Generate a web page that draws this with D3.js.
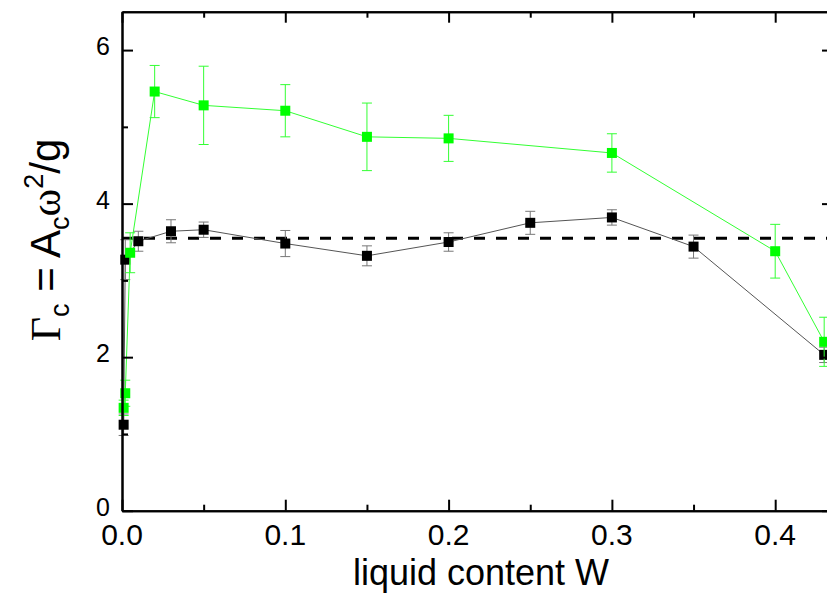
<!DOCTYPE html>
<html><head><meta charset="utf-8">
<script src="https://cdn.jsdelivr.net/npm/d3@7"></script>
<style>body{margin:0;background:#fff}svg{display:block}</style>
</head><body>
<script>
// ---- data ----
const blackW   = [0.001, 0.002, 0.01, 0.03, 0.05, 0.10, 0.15, 0.20, 0.25, 0.30, 0.35, 0.43];
const blackG   = [1.12,  3.27,  3.51, 3.64, 3.66, 3.48, 3.32, 3.50, 3.75, 3.82, 3.44, 2.03];
const blackErr = [0.14,  0.26,  0.13, 0.15, 0.10, 0.17, 0.13, 0.12, 0.15, 0.10, 0.15, 0.10];
const greenW   = [0.001, 0.002, 0.005, 0.02, 0.05, 0.10, 0.15, 0.20, 0.30, 0.40, 0.43];
const greenG   = [1.34,  1.53,  3.36,  5.46, 5.28, 5.21, 4.87, 4.85, 4.66, 3.38, 2.20];
const greenErr = [0.10,  0.17,  0.26,  0.34, 0.51, 0.34, 0.44, 0.30, 0.25, 0.35, 0.32];
const dashedLevel = 3.55;
const xTicks = [0.0, 0.1, 0.2, 0.3, 0.4];
const xMinor = [0.05, 0.15, 0.25, 0.35];
const yTicks = [0, 2, 4, 6];
const yMinor = [1, 3, 5];

const W = 827, H = 597;
const svg = d3.select("body").append("svg").attr("width", W).attr("height", H);

const x = d3.scaleLinear().domain([0, 0.4354]).range([122, 833]);
const y = d3.scaleLinear().domain([0, 6.5]).range([510.7, 11.7]);

const plot = svg.append("g");

// dashed line
plot.append("line")
  .attr("x1", x(0)).attr("x2", 833)
  .attr("y1", y(dashedLevel)).attr("y2", y(dashedLevel))
  .attr("stroke", "#000").attr("stroke-width", 3)
  .attr("stroke-dasharray", "11,11");

function series(Ws, Gs, Es, lineColor, errColor, fill) {
  const data = Ws.map((w, i) => ({w, g: Gs[i], e: Es[i]}));
  const line = d3.line().x(d => x(d.w)).y(d => y(d.g));
  plot.append("path").datum(data).attr("d", line)
    .attr("fill", "none").attr("stroke", lineColor).attr("stroke-width", 1);
  const eb = plot.append("g").attr("stroke", errColor).attr("stroke-width", 1);
  data.forEach(d => {
    eb.append("line").attr("x1", x(d.w)).attr("x2", x(d.w))
      .attr("y1", y(d.g + d.e)).attr("y2", y(d.g - d.e));
    [d.g + d.e, d.g - d.e].forEach(v => {
      eb.append("line").attr("x1", x(d.w) - 5).attr("x2", x(d.w) + 5)
        .attr("y1", y(v)).attr("y2", y(v));
    });
  });
  plot.append("g").selectAll("rect").data(data).join("rect")
    .attr("x", d => x(d.w) - 5).attr("y", d => y(d.g) - 5)
    .attr("width", 10).attr("height", 10).attr("fill", fill);
}
series(blackW, blackG, blackErr, "#555", "#777", "#000");
series(greenW, greenG, greenErr, "#33ff33", "#33ff33", "#00ff00");

// axes
function ax(axis, tr) {
  const g = svg.append("g").attr("transform", tr).call(axis);
  g.selectAll("path").attr("stroke-width", 2);
  g.selectAll("line").attr("stroke-width", 2);
  g.selectAll("text").remove();
  return g;
}
ax(d3.axisBottom(x).tickValues(xTicks).tickSize(-11).tickSizeOuter(0), `translate(0,${y(0)})`);
ax(d3.axisBottom(x).tickValues(xMinor).tickSize(-6).tickSizeOuter(0), `translate(0,${y(0)})`);
ax(d3.axisTop(x).tickValues(xTicks).tickSize(-11).tickSizeOuter(0), `translate(0,${y(6.5)})`);
ax(d3.axisTop(x).tickValues(xMinor).tickSize(-6).tickSizeOuter(0), `translate(0,${y(6.5)})`);
ax(d3.axisLeft(y).tickValues(yTicks).tickSize(-11).tickSizeOuter(0), `translate(${x(0)},0)`);
ax(d3.axisLeft(y).tickValues(yMinor).tickSize(-6).tickSizeOuter(0), `translate(${x(0)},0)`);
ax(d3.axisRight(y).tickValues(yTicks).tickSize(-11).tickSizeOuter(0), `translate(833,0)`);
ax(d3.axisRight(y).tickValues(yMinor).tickSize(-6).tickSizeOuter(0), `translate(833,0)`);

// tick labels
svg.append("g").selectAll("text").data(xTicks).join("text")
  .attr("x", d => x(d)).attr("y", 545)
  .attr("text-anchor", "middle")
  .attr("font-family", "Liberation Sans, Arial, sans-serif").attr("font-size", 30)
  .text(d => d.toFixed(1));
svg.append("g").selectAll("text").data(yTicks).join("text")
  .attr("x", 110).attr("y", d => y(d) + 5)
  .attr("text-anchor", "end")
  .attr("font-family", "Liberation Sans, Arial, sans-serif").attr("font-size", 25)
  .text(d => d);

// x title
svg.append("text").attr("x", 481).attr("y", 585).attr("text-anchor", "middle")
  .attr("font-family", "Liberation Sans, Arial, sans-serif").attr("font-size", 36)
  .text("liquid content W");

// y title
const yt = svg.append("text")
  .attr("transform", "translate(60,240) rotate(-90)")
  .attr("text-anchor", "middle")
  .attr("font-family", "Liberation Sans, Arial, sans-serif").attr("font-size", 42);
yt.append("tspan").attr("font-family", "Liberation Serif, Times New Roman, serif").text("Γ");
yt.append("tspan").attr("font-size", 27).attr("dy", 9).text("c");
yt.append("tspan").attr("dy", -9).text(" = A");
yt.append("tspan").attr("font-size", 27).attr("dy", 9).text("c");
yt.append("tspan").attr("dy", -9).attr("font-family", "Liberation Serif, Times New Roman, serif").text("ω");
yt.append("tspan").attr("font-size", 27).attr("dy", -17).text("2");
yt.append("tspan").attr("dy", 17).text("/g");
</script>
</body></html>
